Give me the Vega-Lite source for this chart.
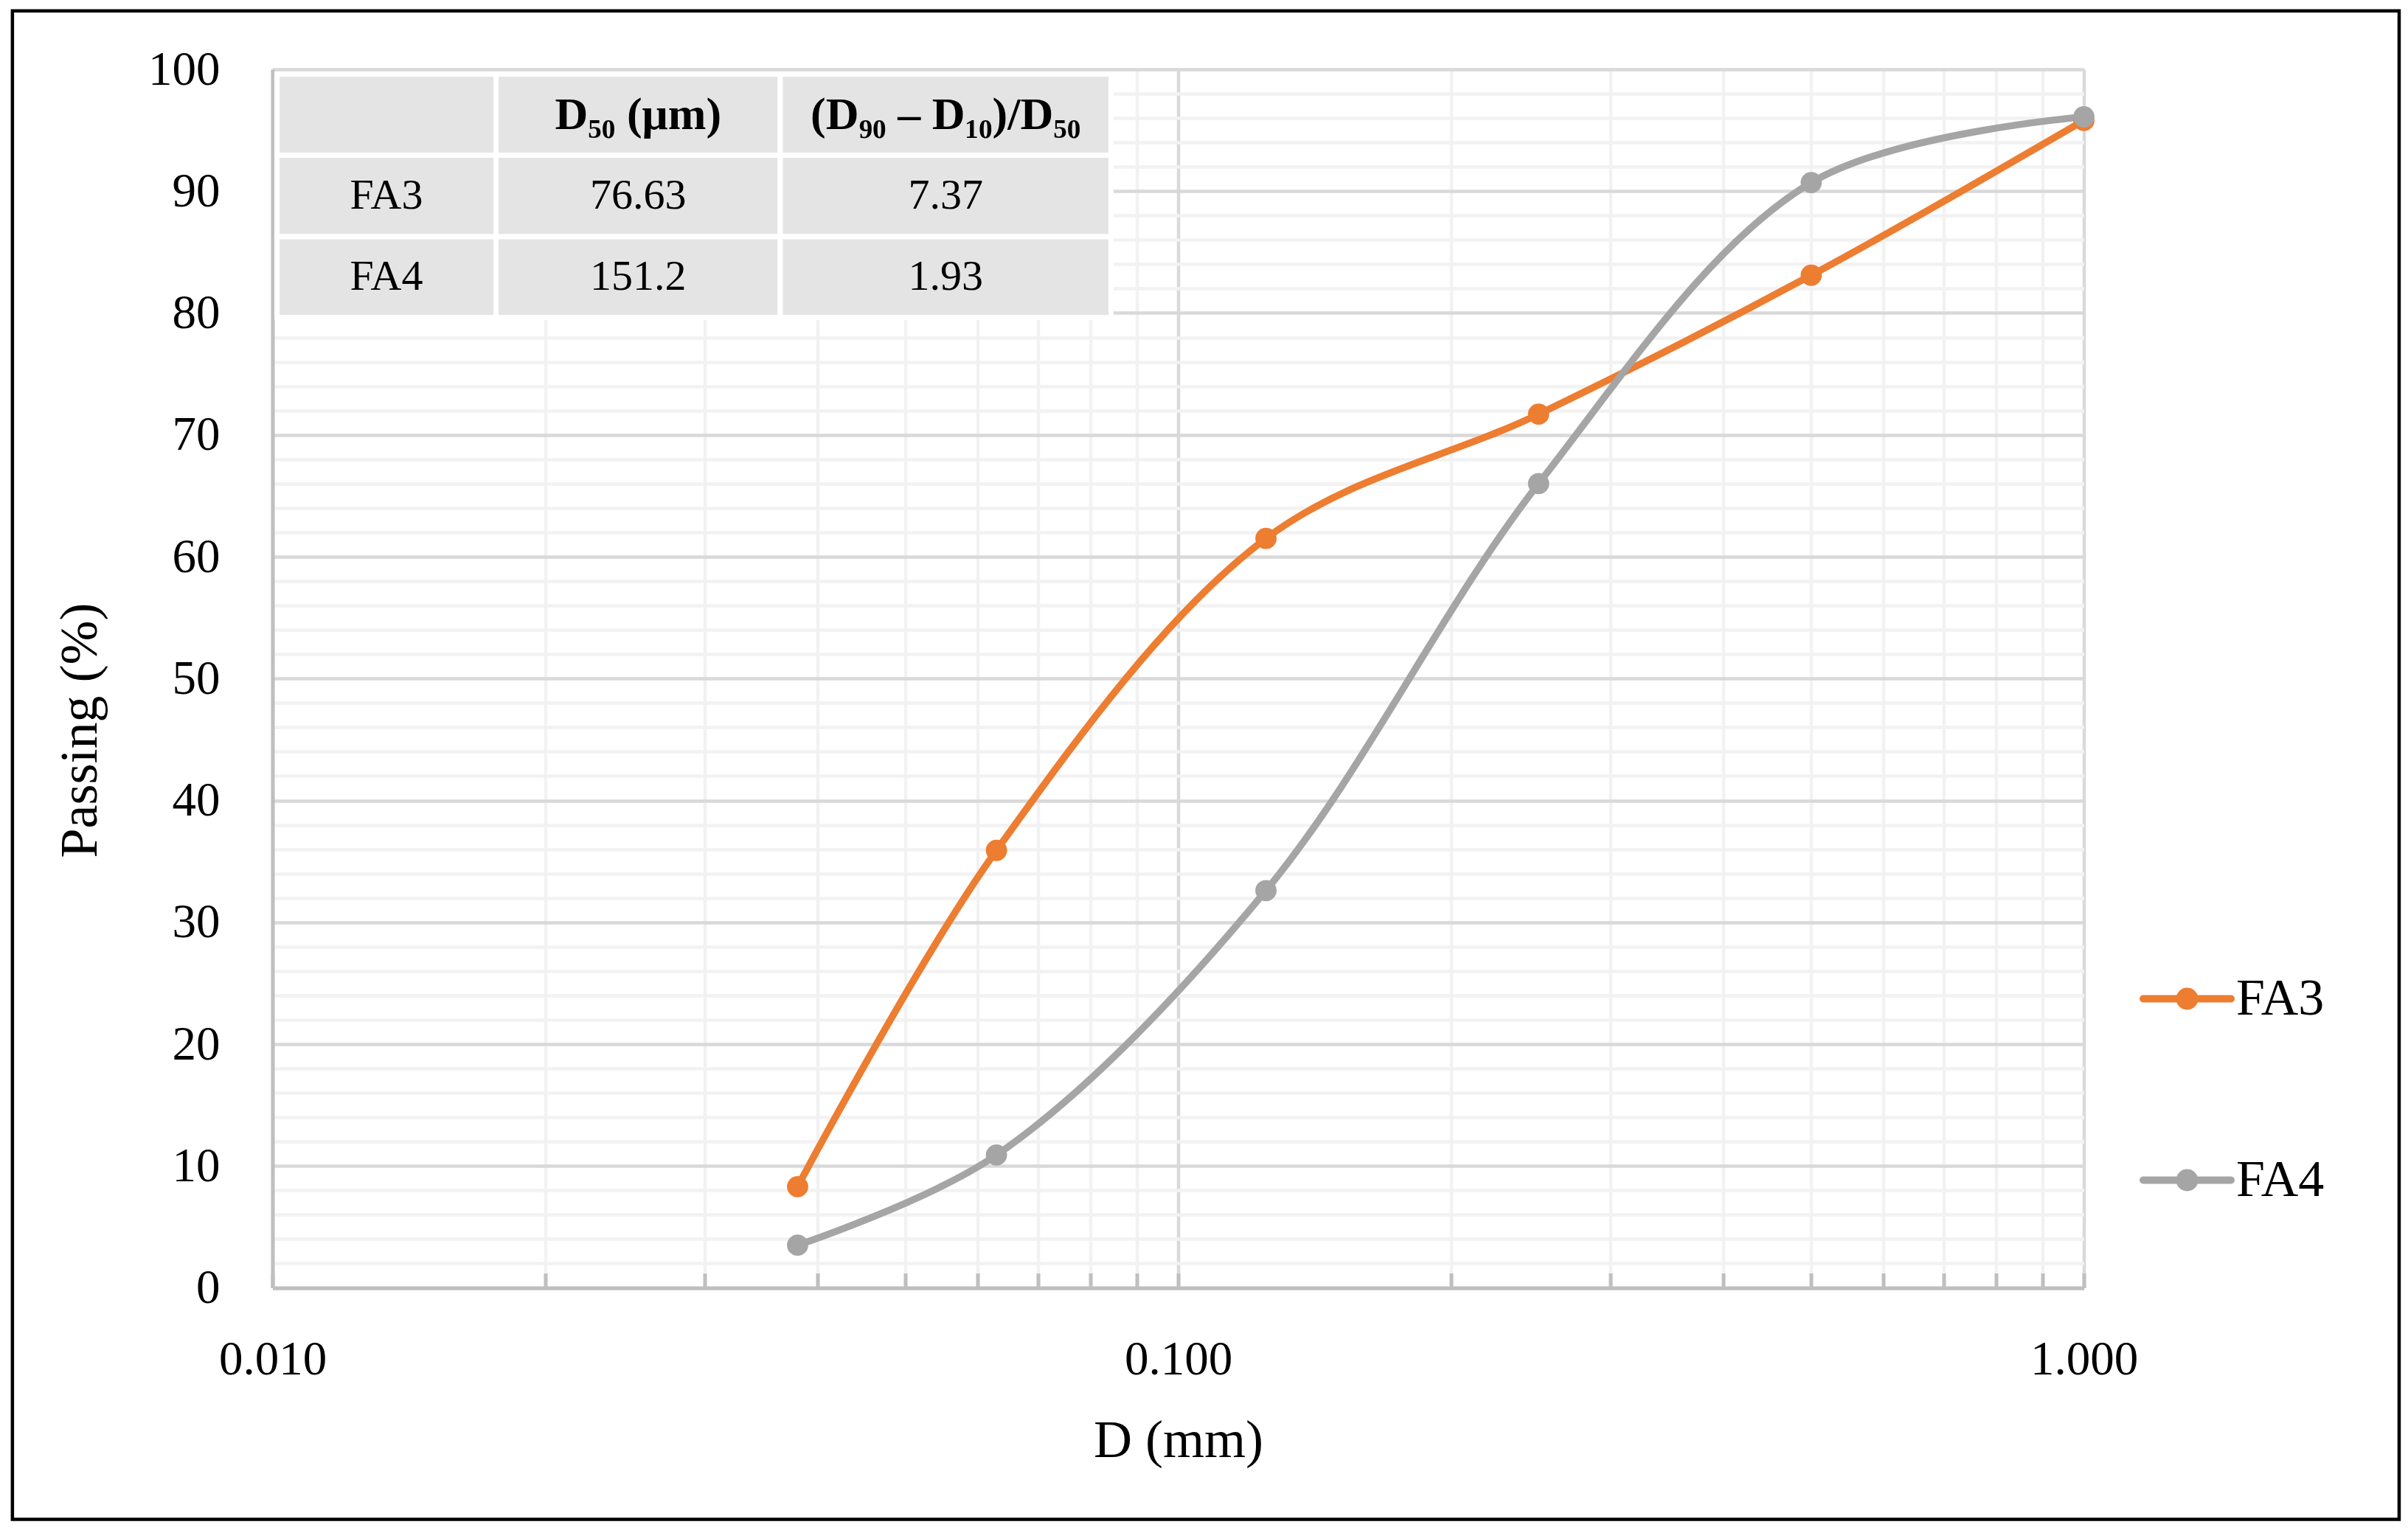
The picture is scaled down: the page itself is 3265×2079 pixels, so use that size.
{
  "$schema": "https://vega.github.io/schema/vega-lite/v6.json",
  "width": 2456,
  "height": 1652.5,
  "autosize": {"type": "none"},
  "padding": {"left": 369.5, "top": 94, "right": 439.5, "bottom": 332.5},
  "background": "white",
  "config": {
    "view": {"stroke": null},
    "font": "Liberation Serif",
    "axis": {"labelFont": "Liberation Serif", "titleFont": "Liberation Serif"},
    "legend": {"labelFont": "Liberation Serif"}
  },
  "datasets": {
    "sieve": [
      {"series": "FA3", "d": 0.038, "passing": 8.3},
      {"series": "FA3", "d": 0.063, "passing": 35.9},
      {"series": "FA3", "d": 0.125, "passing": 61.5},
      {"series": "FA3", "d": 0.25, "passing": 71.7},
      {"series": "FA3", "d": 0.5, "passing": 83.1},
      {"series": "FA3", "d": 1.0, "passing": 95.8},
      {"series": "FA4", "d": 0.038, "passing": 3.5},
      {"series": "FA4", "d": 0.063, "passing": 10.9},
      {"series": "FA4", "d": 0.125, "passing": 32.6},
      {"series": "FA4", "d": 0.25, "passing": 66.0},
      {"series": "FA4", "d": 0.5, "passing": 90.7},
      {"series": "FA4", "d": 1.0, "passing": 96.1}
    ],
    "table": [
      {"row": 0, "rowEnd": 1, "rowMid": 0.5, "col": 0, "colEnd": 1, "colMid": 0.5, "label": "", "head": true},
      {"row": 0, "rowEnd": 1, "rowMid": 0.5, "col": 1, "colEnd": 2, "colMid": 1.5, "label": "D₅₀ (μm)", "head": true},
      {"row": 0, "rowEnd": 1, "rowMid": 0.5, "col": 2, "colEnd": 3, "colMid": 2.5, "label": "(D₉₀ – D₁₀)/D₅₀", "head": true},
      {"row": 1, "rowEnd": 2, "rowMid": 1.5, "col": 0, "colEnd": 1, "colMid": 0.5, "label": "FA3", "head": false},
      {"row": 1, "rowEnd": 2, "rowMid": 1.5, "col": 1, "colEnd": 2, "colMid": 1.5, "label": "76.63", "head": false},
      {"row": 1, "rowEnd": 2, "rowMid": 1.5, "col": 2, "colEnd": 3, "colMid": 2.5, "label": "7.37", "head": false},
      {"row": 2, "rowEnd": 3, "rowMid": 2.5, "col": 0, "colEnd": 1, "colMid": 0.5, "label": "FA4", "head": false},
      {"row": 2, "rowEnd": 3, "rowMid": 2.5, "col": 1, "colEnd": 2, "colMid": 1.5, "label": "151.2", "head": false},
      {"row": 2, "rowEnd": 3, "rowMid": 2.5, "col": 2, "colEnd": 3, "colMid": 2.5, "label": "1.93", "head": false}
    ]
  },
  "layer": [
    {
      "layer": [
        {
          "data": {"name": "sieve"},
          "mark": {"type": "line", "interpolate": "catmull-rom", "strokeWidth": 9.5, "strokeCap": "round", "strokeJoin": "round"},
          "encoding": {
            "x": {
              "field": "d", "type": "quantitative",
              "scale": {"type": "log", "domain": [0.01, 1], "nice": false},
              "axis": {
                "title": "D (mm)",
                "values": [0.01, 0.02, 0.03, 0.04, 0.05, 0.06, 0.07, 0.08, 0.09, 0.1, 0.2, 0.3, 0.4, 0.5, 0.6, 0.7, 0.8, 0.9, 1],
                "tickCount": 200,
                "labelExpr": "(datum.value === 0.01 || datum.value === 0.1 || datum.value === 1) ? format(datum.value, '.3f') : ''",
                "labelFontSize": 65, "labelColor": "black",
                "labelOverlap": false, "labelFlush": false, "labelBound": false,
                "labelBaseline": "middle", "labelPadding": 117,
                "ticks": true, "tickSize": -20, "tickColor": "#bfbfbf", "tickWidth": 5,
                "domain": true, "domainColor": "#bfbfbf", "domainWidth": 5,
                "grid": true,
                "gridColor": {"condition": {"test": "datum.value === 0.01 || datum.value === 0.1 || datum.value === 1", "value": "#d9d9d9"}, "value": "#f2f2f2"},
                "gridWidth": 4.5,
                "titleFontSize": 72, "titleFontWeight": "normal", "titleColor": "black",
                "titleY": 228.5, "titleBaseline": "alphabetic"
              }
            },
            "y": {
              "field": "passing", "type": "quantitative",
              "scale": {"domain": [0, 100], "nice": false},
              "axis": {
                "title": "Passing (%)",
                "values": [0, 2, 4, 6, 8, 10, 12, 14, 16, 18, 20, 22, 24, 26, 28, 30, 32, 34, 36, 38, 40, 42, 44, 46, 48, 50, 52, 54, 56, 58, 60, 62, 64, 66, 68, 70, 72, 74, 76, 78, 80, 82, 84, 86, 88, 90, 92, 94, 96, 98, 100],
                "tickCount": 200,
                "format": "d",
                "labelExpr": "datum.value % 10 === 0 ? datum.label : ''",
                "labelFontSize": 65, "labelColor": "black", "labelPadding": 71.5,
                "labelOverlap": false, "labelFlush": false, "labelBound": false,
                "ticks": false,
                "domain": true, "domainColor": "#bfbfbf", "domainWidth": 5,
                "grid": true,
                "gridColor": {"condition": {"test": "datum.value % 10 === 0", "value": "#d9d9d9"}, "value": "#f2f2f2"},
                "gridWidth": 4.5,
                "titleFontSize": 72, "titleFontWeight": "normal", "titleColor": "black",
                "titleAngle": 270, "titleX": -239.5, "titleY": 896, "titleBaseline": "alphabetic", "titleAlign": "center"
              }
            },
            "color": {
              "field": "series", "type": "nominal",
              "scale": {"domain": ["FA3", "FA4"], "range": ["#ED7D31", "#A5A5A5"]},
              "legend": {
                "title": null, "orient": "none", "legendX": 2531.5, "legendY": 1196, "direction": "vertical", "padding": 0,
                "symbolType": "M-1,0L1,0M-0.168,0A0.168,0.168,0,1,0,0.168,0A0.168,0.168,0,1,0,-0.168,0Z",
                "symbolSize": 14161, "symbolStrokeWidth": 10,
                "labelFontSize": 70, "labelColor": "black", "labelOffset": 2, "rowPadding": 146,
                "encode": {"symbols": {"update": {"fill": {"scale": "color", "field": "value"}, "stroke": {"scale": "color", "field": "value"}, "fillOpacity": {"value": 1}, "strokeCap": {"value": "round"}}}}
              }
            }
          }
        },
        {
          "data": {"name": "sieve"},
          "mark": {"type": "point", "filled": true, "size": 830, "opacity": 1, "strokeWidth": 0},
          "encoding": {
            "x": {"field": "d", "type": "quantitative", "scale": {"type": "log", "domain": [0.01, 1], "nice": false}},
            "y": {"field": "passing", "type": "quantitative", "scale": {"domain": [0, 100], "nice": false}},
            "color": {
              "field": "series", "type": "nominal",
              "scale": {"domain": ["FA3", "FA4"], "range": ["#ED7D31", "#A5A5A5"]},
              "legend": {
                "title": null, "orient": "none", "legendX": 2531.5, "legendY": 1196, "direction": "vertical", "padding": 0,
                "symbolType": "M-1,0L1,0M-0.168,0A0.168,0.168,0,1,0,0.168,0A0.168,0.168,0,1,0,-0.168,0Z",
                "symbolSize": 14161, "symbolStrokeWidth": 10,
                "labelFontSize": 70, "labelColor": "black", "labelOffset": 2, "rowPadding": 146,
                "encode": {"symbols": {"update": {"fill": {"scale": "color", "field": "value"}, "stroke": {"scale": "color", "field": "value"}, "fillOpacity": {"value": 1}, "strokeCap": {"value": "round"}}}}
              }
            }
          }
        },
        {
          "data": {"values": [{}]},
          "mark": {"type": "rect", "fillOpacity": 0, "stroke": "black", "strokeWidth": 4.5},
          "encoding": {
            "x": {"datum": 0.005162, "type": "quantitative"},
            "x2": {"datum": 2.229},
            "y": {"datum": 104.8, "type": "quantitative"},
            "y2": {"datum": -19.0}
          }
        }
      ]
    },
    {
      "data": {"name": "table"},
      "layer": [
        {
          "mark": {"type": "rect", "fill": "#e4e4e4", "stroke": "white", "strokeWidth": 7},
          "encoding": {
            "x": {"field": "col", "type": "quantitative", "scale": {"domain": [0, 1, 2, 3], "range": [6, 303, 688.5, 1137], "nice": false, "zero": false}, "axis": null},
            "x2": {"field": "colEnd"},
            "y": {"field": "row", "type": "quantitative", "scale": {"domain": [0, 1, 2, 3], "range": [6.5, 116.5, 227, 336.5], "nice": false, "zero": false}, "axis": null},
            "y2": {"field": "rowEnd"}
          }
        },
        {
          "transform": [{"filter": "!datum.head"}],
          "mark": {"type": "text", "align": "center", "baseline": "middle", "fontSize": 58, "font": "Liberation Serif", "color": "black"},
          "encoding": {
            "x": {"field": "colMid", "type": "quantitative", "scale": {"domain": [0, 1, 2, 3], "range": [6, 303, 688.5, 1137], "nice": false, "zero": false}, "axis": null},
            "y": {"field": "rowMid", "type": "quantitative", "scale": {"domain": [0, 1, 2, 3], "range": [6.5, 116.5, 227, 336.5], "nice": false, "zero": false}, "axis": null},
            "text": {"field": "label"}
          }
        },
        {
          "transform": [{"filter": "datum.head"}],
          "mark": {"type": "text", "align": "center", "baseline": "middle", "fontSize": 62, "fontWeight": "bold", "font": "Liberation Serif", "color": "black"},
          "encoding": {
            "x": {"field": "colMid", "type": "quantitative", "scale": {"domain": [0, 1, 2, 3], "range": [6, 303, 688.5, 1137], "nice": false, "zero": false}, "axis": null},
            "y": {"field": "rowMid", "type": "quantitative", "scale": {"domain": [0, 1, 2, 3], "range": [6.5, 116.5, 227, 336.5], "nice": false, "zero": false}, "axis": null},
            "text": {"field": "label"}
          }
        }
      ]
    }
  ],
  "resolve": {"scale": {"x": "independent", "y": "independent"}, "axis": {"x": "independent", "y": "independent"}}
}
